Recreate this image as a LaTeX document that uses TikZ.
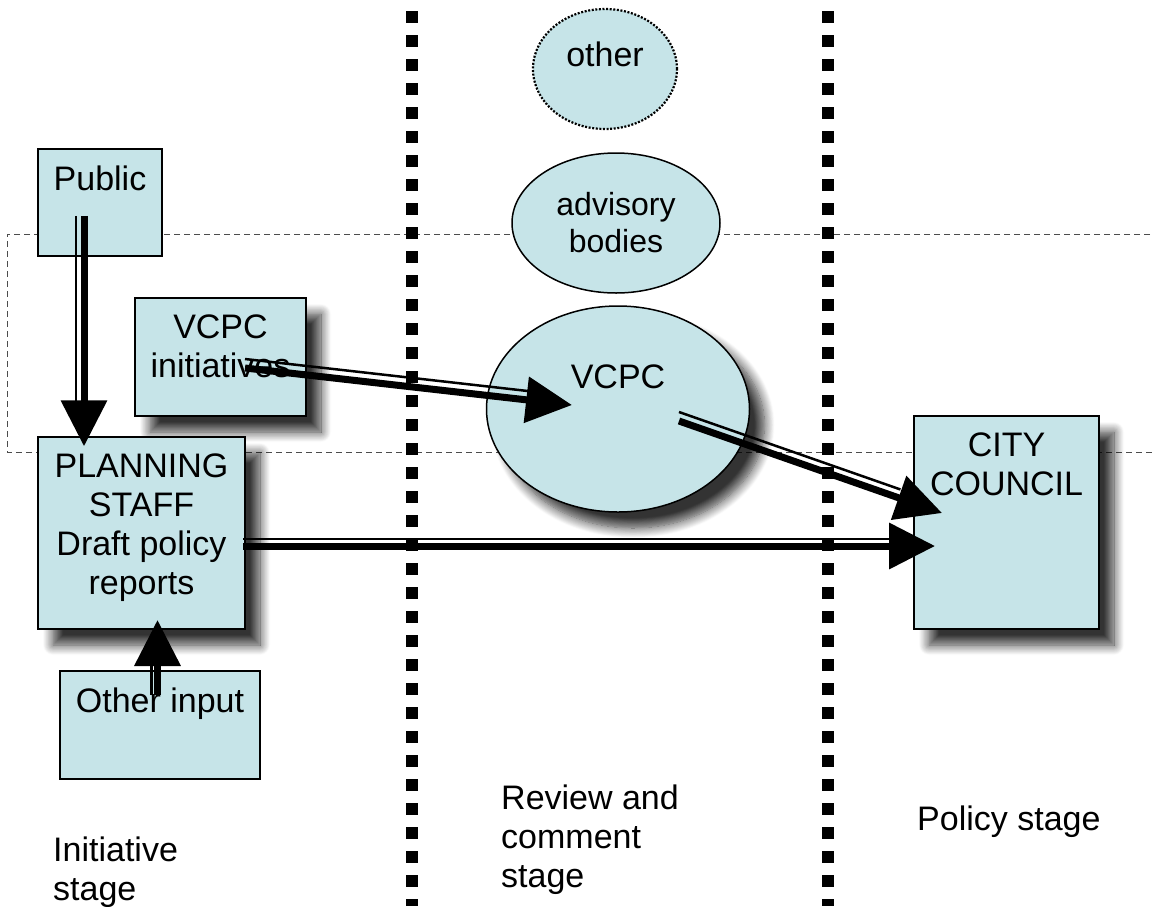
\documentclass[tikz,border=0pt]{standalone}
\usepackage{fontspec}
\setmainfont{Liberation Sans}
\usetikzlibrary{shapes.geometric,arrows.meta,calc,shadows.blur}
\definecolor{paleblue}{RGB}{198,228,232}

\tikzset{
  box/.style={draw, line width=1.5pt, fill=paleblue, rectangle, inner sep=0pt},
  blob/.style={draw, line width=1.5pt, fill=paleblue, ellipse, inner sep=0pt},
  dropshadow/.style={blur shadow={shadow xshift=15pt, shadow yshift=-16pt,
      shadow blur radius=10pt, shadow blur steps=12, shadow opacity=80}},
  lbl/.style={anchor=north, inner sep=0pt, align=center},
  stage/.style={anchor=north west, inner sep=0pt, align=left},
  flow/.style={line width=7pt, -{Triangle[length=46pt, width=45pt]}},
  rim/.style={line width=2.5pt, shorten >=44pt},
  divider/.style={line width=12pt, dash pattern=on 12pt off 12pt},
}

\begin{document}
\begin{tikzpicture}[x=1pt, y=-1pt, font=\fontsize{34}{39}\selectfont]
\useasboundingbox (0,0) rectangle (1154,906);

% zone of the review bodies
\draw[black!70, line width=0.8pt, dash pattern=on 6pt off 4pt]
  (1160,234) -- (7,234) -- (7,452) -- (1160,452);

% stage borders
\draw[divider] (412,11) -- (412,906);
\draw[divider] (828,11) -- (828,906);

\node[blob, line width=2.2pt, dash pattern=on 2pt off 1.6pt, minimum width=144pt, minimum height=120pt,
  label={[lbl, yshift=-34pt]north:other}] (other) at (605,69) {};
\node[blob, minimum width=208pt, minimum height=140pt, align=center,
  font=\fontsize{32}{37}\selectfont] (advisory) at (616,223) {advisory\\bodies};
\node[blob, dropshadow, minimum width=263pt, minimum height=206pt,
  label={[lbl, yshift=-59pt]north:VCPC}] (vcpc) at (618,409) {};

\node[box, minimum width=124pt, minimum height=107pt,
  label={[lbl, yshift=-17pt]north:Public}] (public) at (100,202.5) {};
\node[box, dropshadow, minimum width=171pt, minimum height=118pt,
  label={[lbl, yshift=-17pt]north:VCPC\\initiatives}] (initiatives) at (220.5,357) {};
\node[box, dropshadow, minimum width=207pt, minimum height=192pt,
  label={[lbl, yshift=-17pt]north:PLANNING\\STAFF\\Draft policy\\reports}] (planning) at (141.5,533) {};
\node[box, minimum width=200pt, minimum height=108pt,
  label={[lbl, yshift=-17pt]north:Other input}] (input) at (160,725) {};
\node[box, dropshadow, minimum width=185pt, minimum height=213pt,
  label={[lbl, yshift=-17pt]north:CITY\\COUNCIL}] (council) at (1006.5,522.5) {};

\node[stage] (initstage) at (53,837) {Initiative\\stage};
\node[stage] (reviewstage) at (501,785) {Review and\\comment\\stage};
\node[stage] (policystage) at (917,806) {Policy stage};

% flows
\draw[rim, transform canvas={xshift=-8pt}] ($(public.south)+(-16,-41)$) -- ($(planning.north)+(-57.5,10)$);
\draw[flow] ($(public.south)+(-16,-41)$) -- ($(planning.north)+(-57.5,10)$);

\draw[rim, transform canvas={yshift=9pt}] ($(initiatives.center)+(24.5,11)$) -- ($(vcpc.center)+(-46,-4)$);
\draw[flow] ($(initiatives.center)+(24.5,11)$) -- ($(vcpc.center)+(-46,-4)$);

\draw[rim, transform canvas={yshift=9pt}] ($(vcpc.center)+(61,12)$) -- ($(council.center)+(-64.5,-9.5)$);
\draw[flow] ($(vcpc.center)+(61,12)$) -- ($(council.center)+(-64.5,-9.5)$);

\draw[rim, transform canvas={yshift=7pt}] ($(planning.center)+(101.5,13)$) -- ($(council.center)+(-71.5,23.5)$);
\draw[flow] ($(planning.center)+(101.5,13)$) -- ($(council.center)+(-71.5,23.5)$);

\draw[rim, transform canvas={xshift=-6pt}] ($(input.center)+(-2.5,-30)$) -- ($(planning.center)+(16,87)$);
\draw[flow] ($(input.center)+(-2.5,-30)$) -- ($(planning.center)+(16,87)$);
\end{tikzpicture}
\end{document}
